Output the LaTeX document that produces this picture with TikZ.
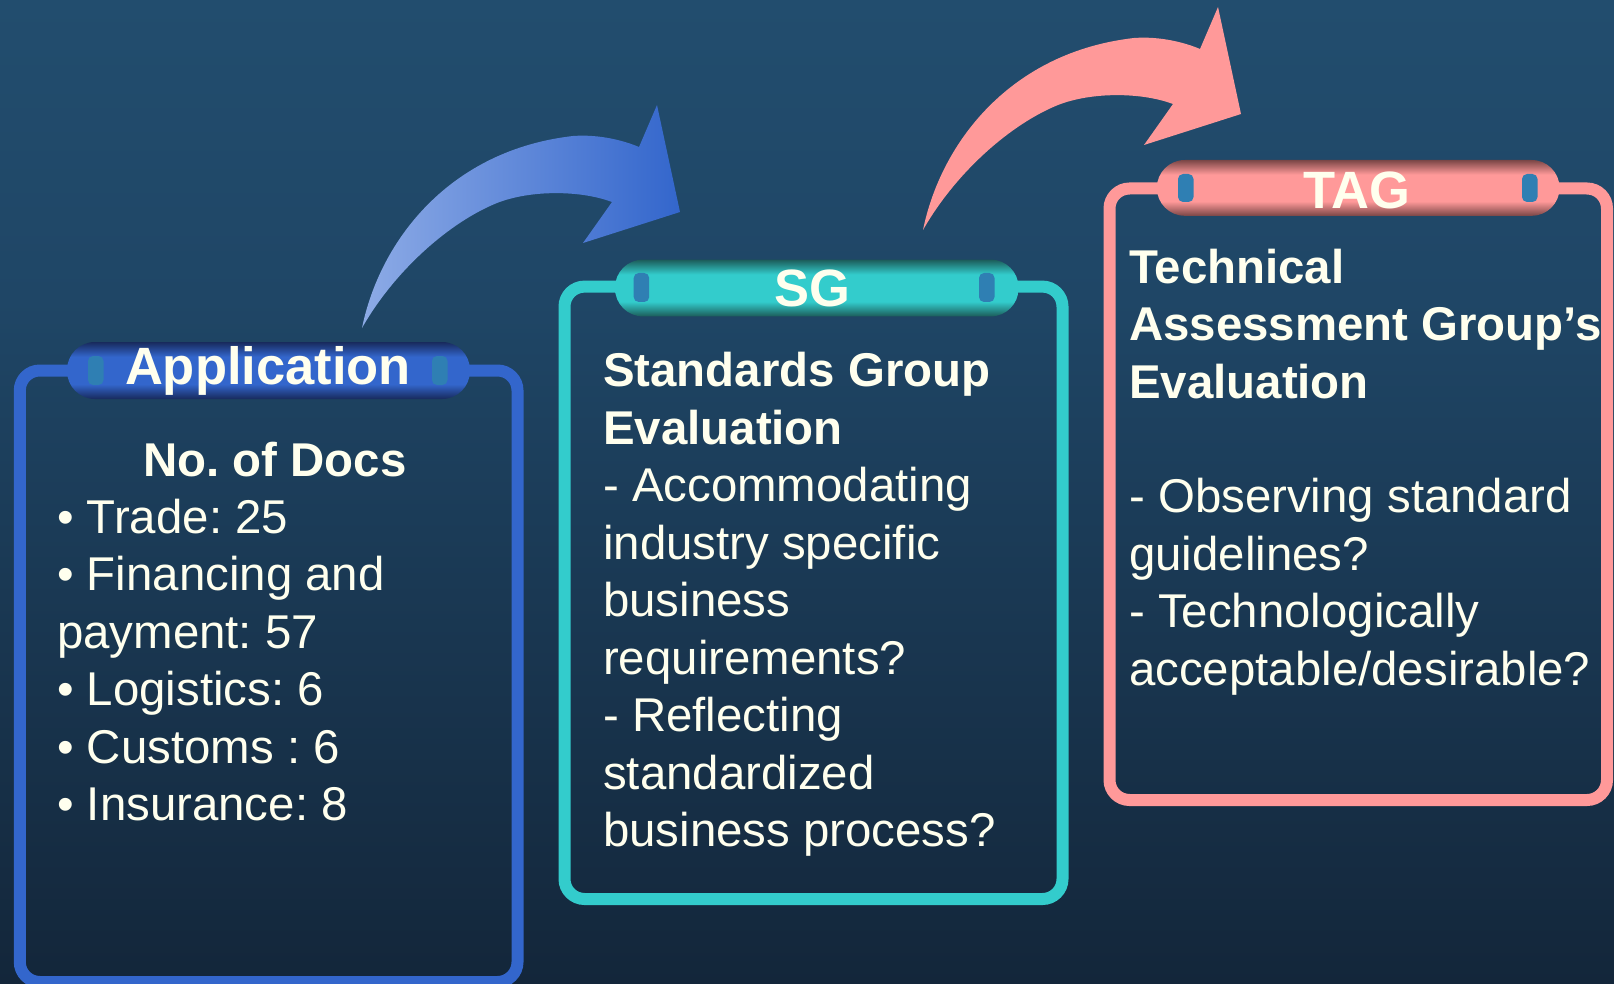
\documentclass[tikz,border=0pt]{standalone}
\usepackage{fontspec}
\setmainfont{Liberation Sans}
\frenchspacing
\definecolor{bgtop}{HTML}{224D6E}
\definecolor{bgmid}{HTML}{1F4666}
\definecolor{bgbot}{HTML}{13263A}
\definecolor{blueC}{HTML}{3366CC}
\definecolor{tealC}{HTML}{33CCCC}
\definecolor{pinkC}{HTML}{FF9999}
\definecolor{adark}{HTML}{182A5C}
\definecolor{sdark}{HTML}{1C5C59}
\definecolor{tdark}{HTML}{7A4646}
\definecolor{dotC}{HTML}{2F7FB3}
\definecolor{cream}{HTML}{FFFFEE}
\definecolor{arrL}{HTML}{8DABE6}
\pgfdeclareverticalshading{bgshade}{100bp}{color(0bp)=(bgbot); color(25bp)=(bgbot); color(59.75bp)=(bgmid); color(75bp)=(bgtop); color(100bp)=(bgtop)}
\pgfdeclareverticalshading{pillA}{100bp}{color(0bp)=(adark); color(25bp)=(adark); color(38bp)=(blueC); color(62bp)=(blueC); color(75bp)=(adark); color(100bp)=(adark)}
\pgfdeclareverticalshading{pillS}{100bp}{color(0bp)=(sdark); color(25bp)=(sdark); color(38bp)=(tealC); color(62bp)=(tealC); color(75bp)=(sdark); color(100bp)=(sdark)}
\pgfdeclareverticalshading{pillT}{100bp}{color(0bp)=(tdark); color(25bp)=(tdark); color(38bp)=(pinkC); color(62bp)=(pinkC); color(75bp)=(tdark); color(100bp)=(tdark)}
\begin{document}
\begin{tikzpicture}[x=1pt,y=-1pt,
  boxline/.style={line width=12pt, rounded corners=20pt},
  pillbar/.style={rounded corners=28pt},
  dotmark/.style={fill=dotC, rounded corners=5pt},
  titletxt/.style={font=\fontsize{52.5}{60}\selectfont\bfseries, text=cream, inner sep=0pt, anchor=base},
  bodytxt/.style={font=\fontsize{47.4}{57.4}\selectfont, text=cream, inner sep=0pt, anchor=base west},
  headtxt/.style={bodytxt, font=\fontsize{47.4}{57.4}\selectfont\bfseries}]
\useasboundingbox (0,0) rectangle (1614,984);
\shade[shading=bgshade] (0,0) rectangle (1614,984);

% arrows
\shade[left color=arrL, right color=blueC]
  (362,328) .. controls (380,240) and (450,150) .. (573,136)
  .. controls (600,134) and (625,141) .. (639,147)
  -- (657,105) -- (680,212) -- (583,243) -- (612,202)
  .. controls (580,190) and (530,190) .. (497,203)
  .. controls (450,222) and (395,270) .. (362,328) -- cycle;
\begin{scope}[shift={(561,-98)}]
\fill[pinkC]
  (362,328) .. controls (380,240) and (450,150) .. (573,136)
  .. controls (600,134) and (625,141) .. (639,147)
  -- (657,105) -- (680,212) -- (583,243) -- (612,202)
  .. controls (580,190) and (530,190) .. (497,203)
  .. controls (450,222) and (395,270) .. (362,328) -- cycle;
\end{scope}

% boxes
\draw[boxline, draw=blueC] (19.8,370.5) rectangle (517.5,982);
\draw[boxline, draw=tealC] (564.5,286.6) rectangle (1062.5,899);
\draw[boxline, draw=pinkC] (1109.5,188.5) rectangle (1607,800);

% pills
\shade[pillbar, shading=pillA] (67,342) rectangle (470,399);
\shade[pillbar, shading=pillS] (615,259.6) rectangle (1018.6,316.4);
\shade[pillbar, shading=pillT] (1156.8,160) rectangle (1559.6,215.8);
\fill[dotmark] (88,356) rectangle (103.5,385);
\fill[dotmark] (432,356) rectangle (447.5,385);
\fill[dotmark] (633.7,273) rectangle (649.2,302);
\fill[dotmark] (979,273) rectangle (994.5,302);
\fill[dotmark] (1178,174) rectangle (1193.5,202);
\fill[dotmark] (1522,174) rectangle (1537.5,202);

\node[titletxt] (tApp) at (268,384) {Application};
\node[titletxt] (tSG) at (812,306) {SG};
\node[titletxt] (tTAG) at (1357,208.5) {TAG};

% box 1 text
\node[headtxt, anchor=base] (a0) at (275,476) {No. of Docs};
\node[bodytxt] (a1) at (57,533.4) {• Trade: 25};
\node[bodytxt] (a2) at (57,590.8) {• Financing and};
\node[bodytxt] (a3) at (57,648.2) {payment: 57};
\node[bodytxt] (a4) at (57,705.6) {• Logistics: 6};
\node[bodytxt] (a5) at (57,763) {• Customs : 6};
\node[bodytxt] (a6) at (57,820.4) {• Insurance: 8};

% box 2 text
\node[headtxt] (s0) at (603,386.8) {Standards Group};
\node[headtxt] (s1) at (603,444.3) {Evaluation};
\node[bodytxt] (s2) at (603,501.8) {- Accommodating};
\node[bodytxt] (s3) at (603,559.3) {industry specific};
\node[bodytxt] (s4) at (603,616.8) {business};
\node[bodytxt] (s5) at (603,674.3) {requirements?};
\node[bodytxt] (s6) at (603,731.8) {- Reflecting};
\node[bodytxt] (s7) at (603,789.3) {standardized};
\node[bodytxt] (s8) at (603,846.8) {business process?};

% box 3 text
\node[headtxt] (g0) at (1129,283.3) {Technical};
\node[headtxt] (g1) at (1129,340.7) {Assessment Group’s};
\node[headtxt] (g2) at (1129,398.1) {Evaluation};
\node[bodytxt] (g4) at (1129,512.9) {- Observing standard};
\node[bodytxt] (g5) at (1129,570.3) {guidelines?};
\node[bodytxt] (g6) at (1129,627.7) {- Technologically};
\node[bodytxt] (g7) at (1129,685.1) {acceptable/desirable?};
\end{tikzpicture}
\end{document}
